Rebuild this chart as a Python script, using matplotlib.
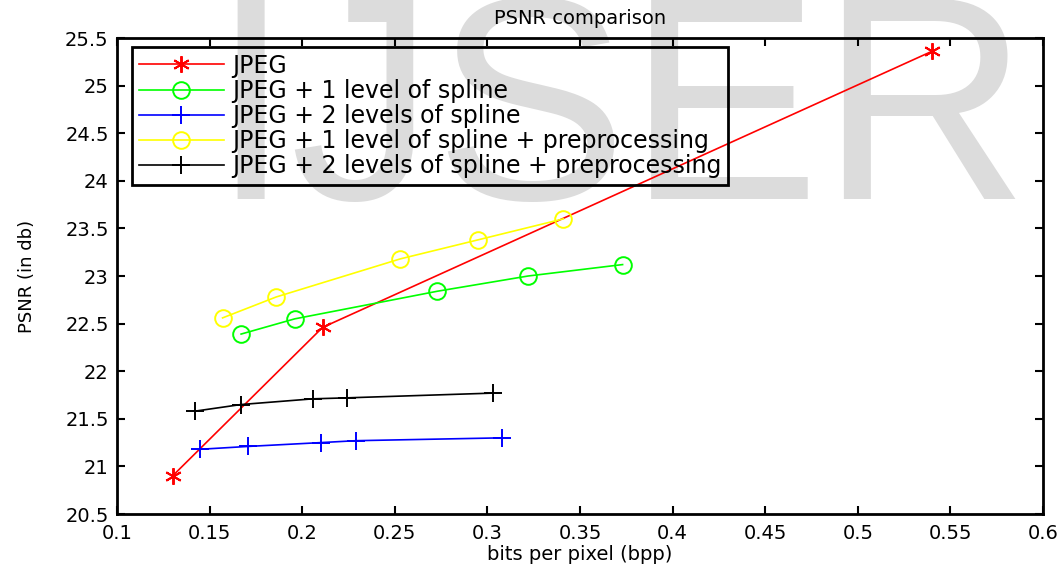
import matplotlib.pyplot as plt

# bits per pixel / PSNR values
jpeg_bpp = [0.130, 0.211, 0.540]
jpeg_psnr = [20.90, 22.46, 25.36]

spl1_bpp = [0.167, 0.196, 0.273, 0.322, 0.373]
spl1_psnr = [22.39, 22.55, 22.84, 23.00, 23.12]

spl2_bpp = [0.145, 0.171, 0.210, 0.229, 0.308]
spl2_psnr = [21.18, 21.21, 21.25, 21.27, 21.30]

spl1_pre_bpp = [0.157, 0.186, 0.253, 0.295, 0.341]
spl1_pre_psnr = [22.56, 22.78, 23.18, 23.38, 23.60]

spl2_pre_bpp = [0.142, 0.167, 0.206, 0.224, 0.303]
spl2_pre_psnr = [21.58, 21.65, 21.71, 21.72, 21.77]

labels = ["JPEG",
          "JPEG + 1 level of spline",
          "JPEG + 2 levels of spline",
          "JPEG + 1 level of spline + preprocessing",
          "JPEG + 2 levels of spline + preprocessing"]

xticks = [0.1, 0.15, 0.2, 0.25, 0.3, 0.35, 0.4, 0.45, 0.5, 0.55, 0.6]
yticks = [20.5, 21, 21.5, 22, 22.5, 23, 23.5, 24, 24.5, 25, 25.5]

fig = plt.figure(figsize=(10.63, 5.71), dpi=100)

# watermark behind everything
fig.text(210 / 1063, 1 - 199 / 571, "IJSER", fontsize=208, color="#dcdcdc",
         family=["Liberation Sans", "DejaVu Sans"],
         ha="left", va="baseline", zorder=-5)

ax = fig.add_axes([117 / 1063, 1 - 514 / 571, (1043 - 117) / 1063, (514 - 38) / 571])
ax.patch.set_alpha(0)

lw = 1.2
ax.plot(jpeg_bpp, jpeg_psnr, "-", color="red", marker=(6, 2, 0), lw=lw, ms=12, mew=1.4, label=labels[0])
ax.plot(spl1_bpp, spl1_psnr, "-o", color="#00ff00", mfc="none", lw=lw, ms=12, mew=1.4, label=labels[1])
ax.plot(spl2_bpp, spl2_psnr, "-+", color="#0000ff", lw=lw, ms=13, mew=1.4, label=labels[2])
ax.plot(spl1_pre_bpp, spl1_pre_psnr, "-o", color="#ffff00", mfc="none", lw=lw, ms=12, mew=1.4, label=labels[3])
ax.plot(spl2_pre_bpp, spl2_pre_psnr, "-+", color="black", lw=lw, ms=13, mew=1.4, label=labels[4])

ax.set_xlim(0.1, 0.6)
ax.set_ylim(20.5, 25.5)
ax.set_xticks(xticks)
ax.set_xticklabels([f"{v:g}" for v in xticks])
ax.set_yticks(yticks)
ax.set_yticklabels([f"{v:g}" for v in yticks])
ax.tick_params(direction="in", top=True, right=True, length=6, width=1.5, labelsize=14)
ax.tick_params(axis="x", pad=7)
ax.tick_params(axis="y", pad=6)
for s in ax.spines.values():
    s.set_linewidth(2)

ax.set_title("PSNR comparison", fontsize=14, pad=10)
ax.set_xlabel("bits per pixel (bpp)", fontsize=14, labelpad=2)
ax.set_ylabel("PSNR (in db)", fontsize=13)
ax.yaxis.set_label_coords(-0.088, 0.5)

leg = ax.legend(loc="upper left", bbox_to_anchor=(15 / 926, 1 - 9 / 476),
                fontsize=17, handlelength=3.6, labelspacing=0.05,
                borderaxespad=0, fancybox=False, edgecolor="black", facecolor="none",
                framealpha=1, borderpad=0.28, handletextpad=0.35)
leg.get_frame().set_linewidth(2)

fig.savefig("out.png", dpi=100)
